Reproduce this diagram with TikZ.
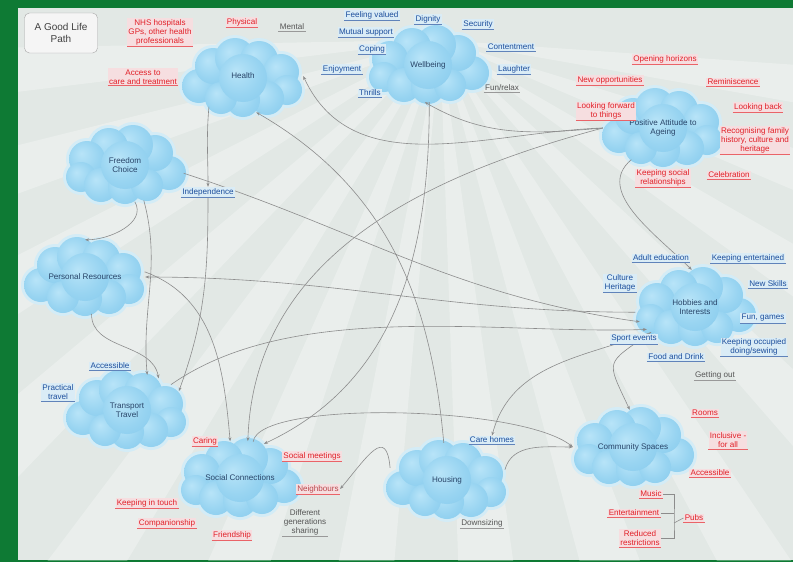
\documentclass[tikz,border=0pt]{standalone}
\usepackage{fontspec}
\setmainfont{Liberation Sans}
\usetikzlibrary{shapes.geometric, arrows.meta}
\definecolor{framegreen}{RGB}{14,122,52}
\definecolor{panelgrey}{RGB}{226,232,229}
\definecolor{bubA}{RGB}{184,228,248}
\definecolor{bubB}{RGB}{152,212,241}
\definecolor{bubC}{RGB}{130,200,236}
\definecolor{bubD}{RGB}{205,236,249}
\definecolor{bubglow}{RGB}{212,236,246}
\definecolor{cloudcol}{RGB}{40,68,104}
\definecolor{lblred}{RGB}{225,32,40}
\definecolor{lblredbg}{RGB}{246,222,224}
\definecolor{lblblue}{RGB}{28,78,156}
\definecolor{lblbluebg}{RGB}{218,236,246}
\definecolor{lbldark}{RGB}{85,85,85}
\pgfdeclareradialshading{bubble}{\pgfpoint{-8bp}{8bp}}{color(0bp)=(bubA); color(22bp)=(bubB); color(42bp)=(bubC); color(50bp)=(bubD)}
\pgfdeclarelayer{back}
\pgfdeclarelayer{links}
\pgfdeclarelayer{front}
\pgfsetlayers{back,main,links,front}
\newcommand{\lblfont}{\fontsize{8.1}{9}\selectfont}
\newcommand{\bubbles}[3]{%
  \begin{scope}[shift={(#1,#2)},xscale=#3]
    \foreach \bx/\by/\br in {-44/8/17,-30/-12/18,-8/-20/20,16/-18/19,38/-6/18,44/12/15,24/20/17,0/22/17,-22/20/16,0/0/24}
      \fill[bubglow](\bx,\by)circle[radius=\br+3];
    \foreach \bx/\by/\br in {-44/8/17,-30/-12/18,-8/-20/20,16/-18/19,38/-6/18,44/12/15,24/20/17,0/22/17,-22/20/16,0/0/24}
      \shade[shading=bubble](\bx,\by)circle[radius=\br];
  \end{scope}}
\tikzset{x=1pt,y=-1pt,>={Stealth[length=4pt,width=3pt]},
         cloudtxt/.style={ellipse,minimum width=120pt,minimum height=74pt,inner sep=0pt,align=center,font=\lblfont,text=cloudcol},
         uline/.style={append after command={(\tikzlastnode.south west) edge[draw=#1,line width=0.5pt] (\tikzlastnode.south east)}},
         redlbl/.style={font=\lblfont,text=lblred,fill=lblredbg,inner sep=1.2pt,align=center,uline=lblred!70},
         bluelbl/.style={font=\lblfont,text=lblblue,fill=lblbluebg,inner sep=1.2pt,align=center,uline=lblblue!70},
         darklbl/.style={font=\lblfont,text=lbldark,inner sep=1.2pt,align=center,uline=black!40},
         titlebox/.style={draw=black!35,rounded corners=5pt,fill=white!92!gray,minimum width=73pt,minimum height=40pt,align=center,font=\fontsize{10}{11.5}\selectfont,text=black!75},
         link/.style={draw=black!45,line width=0.6pt},
        }

\begin{document}
\begin{tikzpicture}
\useasboundingbox (0,0) rectangle (793,562);
\begin{pgfonlayer}{back}
  \fill[framegreen] (0,0) rectangle (793,562);
  \begin{scope}
    \clip (18,8) rectangle (793,560);
    \fill[panelgrey] (18,8) rectangle (793,560);
    \foreach \a in {4,17,...,178}
      \fill[white,opacity=.28] (440,40) -- +(\a:1000) -- +(\a+6:1000) -- cycle;
  \end{scope}
\end{pgfonlayer}

\bubbles{243}{78}{1}
\bubbles{428}{65}{-1}
\bubbles{663}{128}{1}
\bubbles{125}{165}{-1}
\bubbles{85}{277}{1}
\bubbles{695}{307}{-1}
\bubbles{127}{410}{1}
\bubbles{240}{478}{-1}
\bubbles{447}{480}{1}
\bubbles{633}{447}{-1}

\node[cloudtxt](health)at(243,76){Health};
\node[cloudtxt](wellbeing)at(428,65){Wellbeing};
\node[cloudtxt](pa)at(663,128){Positive Attitude to\\Ageing};
\node[cloudtxt](freedom)at(125,165){Freedom\\Choice};
\node[cloudtxt](pr)at(85,277){Personal Resources};
\node[cloudtxt](hobbies)at(695,307){Hobbies and\\Interests};
\node[cloudtxt](transport)at(127,410){Transport\\Travel};
\node[cloudtxt](social)at(240,478){Social Connections};
\node[cloudtxt](housing)at(447,480){Housing};
\node[cloudtxt](community)at(633,447){Community Spaces};

\begin{pgfonlayer}{front}
  \node[titlebox](title)at(61,33){A Good Life\\Path};
  \node[redlbl](nhs)at(160,32){NHS hospitals\\GPs, other health\\professionals};
  \node[redlbl](physical)at(242,22){Physical};
  \node[darklbl](mental)at(292,27){Mental};
  \node[redlbl](access)at(143,77){Access to\\care and treatment};
  \node[bluelbl](valued)at(372,15){Feeling valued};
  \node[bluelbl](dignity)at(428,19){Dignity};
  \node[bluelbl](security)at(478,24){Security};
  \node[bluelbl](mutual)at(366,32){Mutual support};
  \node[bluelbl](coping)at(372,49){Coping};
  \node[bluelbl](content)at(511,47){Contentment};
  \node[bluelbl](enjoy)at(342,69){Enjoyment};
  \node[bluelbl](laugh)at(514,69){Laughter};
  \node[bluelbl](thrills)at(370,93){Thrills};
  \node[darklbl](fun)at(502,88){Fun/relax};
  \node[redlbl](horizons)at(665,59){Opening horizons};
  \node[redlbl](newopp)at(610,80){New opportunities};
  \node[redlbl](remin)at(733,82){Reminiscence};
  \node[redlbl](forward)at(606,111){Looking forward\\to things};
  \node[redlbl](lookback)at(758,107){Looking back};
  \node[redlbl](recog)at(755,140){Recognising family\\history, culture and\\heritage};
  \node[redlbl](keepsoc)at(663,178){Keeping social\\relationships};
  \node[redlbl](celeb)at(729,175){Celebration};
  \node[bluelbl](indep)at(208,192){Independence};
  \node[bluelbl](adulted)at(661,258){Adult education};
  \node[bluelbl](entertained)at(748,258){Keeping entertained};
  \node[bluelbl](heritage)at(620,283){Culture\\Heritage};
  \node[bluelbl](skills)at(768,284){New Skills};
  \node[bluelbl](games)at(763,318){Fun, games};
  \node[bluelbl](sport)at(634,339){Sport events};
  \node[bluelbl](occupied)at(754,347){Keeping occupied\\doing/sewing};
  \node[bluelbl](food)at(676,357){Food and Drink};
  \node[darklbl](gettingout)at(715,375){Getting out};
  \node[bluelbl](accessible)at(110,366){Accessible};
  \node[bluelbl](practical)at(58,392){Practical\\travel};
  \node[redlbl](caring)at(205,441){Caring};
  \node[redlbl](meetings)at(312,456){Social meetings};
  \node[redlbl](touch)at(147,503){Keeping in touch};
  \node[redlbl](compan)at(167,523){Companionship};
  \node[redlbl](friend)at(232,535){Friendship};
  \node[redlbl,text=lblred!60!gray](neigh)at(318,489){Neighbours};
  \node[darklbl](generations)at(305,522){Different\\generations\\sharing};
  \node[bluelbl](carehomes)at(492,440){Care homes};
  \node[darklbl](downsize)at(482,523){Downsizing};
  \node[redlbl](rooms)at(705,413){Rooms};
  \node[redlbl](inclusive)at(728,440){Inclusive -\\for all};
  \node[redlbl](accessible2)at(710,473){Accessible};
  \node[redlbl](music)at(651,494){Music};
  \node[redlbl](entertain)at(634,513){Entertainment};
  \node[redlbl](pubs)at(694,518){Pubs};
  \node[redlbl](reduced)at(640,538){Reduced\\restrictions};
  \coordinate (brk) at (674,523);
  \draw[link] (music.east) -| (brk) |- (reduced.east);
  \draw[link] (entertain.east) -- (entertain.east -| brk);
  \draw[link] (brk) -- (pubs.west);
\end{pgfonlayer}

\begin{pgfonlayer}{links}
  \draw[link,->](pa.west)to[out=185,in=-30](wellbeing.-95);
  \draw[link,->](pa.west)to[out=182,in=-65](health.east);
  \draw[link,->](pa.west)to[out=195,in=88](social.78);
  \draw[link,->](wellbeing.-88)to[out=-90,in=25](social.55);
  \draw[link,<-](health.-70)to[out=-30,in=95](housing.95);
  \draw[link,->](freedom.-8)to[out=-18,in=172](hobbies.195);
  \draw[link,->](hobbies.185)to[out=180,in=0](pr.east);
  \draw[link,->](transport.30)to[out=35,in=182,looseness=.8](hobbies.205);
  \draw[link,->](freedom.-62)to[out=-75,in=95](transport.60);
  \draw[link,->](freedom.-75)to[out=-60,in=0](pr.north);
  \draw[link,->](pr.-80)to[out=-90,in=100](transport.45);
  \draw[link,->](pr.5)to[out=-20,in=95](social.105);
  \draw[link,->](health.222)to[out=-95,in=90](indep.north);
  \draw[link,->](indep.south)to[out=-90,in=70](transport.20);
  \draw[link,->](hobbies.210)to[out=200,in=75](carehomes.north);
  \draw[link,->](hobbies.210)to[out=215,in=115,looseness=1.8](community.95);
  \draw[link,->](social.70)..controls(258,400)and(520,405)..(community.west);
  \draw[link,->](housing.10)to[out=75,in=180](community.west);
  \draw[link,->](housing.168)to[out=95,in=50,looseness=2](neigh.east);
  \draw[link,->](pa.-135)to[out=-140,in=135](hobbies.95);
\end{pgfonlayer}
\end{tikzpicture}
\end{document}
